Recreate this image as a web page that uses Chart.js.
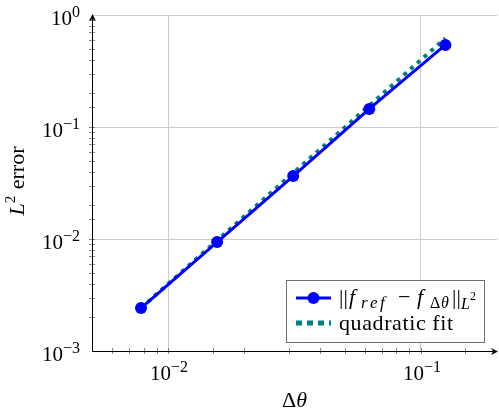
<!DOCTYPE html>
<html>
<head>
<meta charset="utf-8">
<script src="https://cdn.jsdelivr.net/npm/chart.js@4/dist/chart.umd.min.js"></script>
<style>
html,body{margin:0;padding:0;background:#fff;}
canvas{display:block;}
</style>
</head>
<body>
<canvas id="c" width="499" height="416"></canvas>
<script>
// ---- data ----
const dTheta = [0.0078125, 0.015625, 0.03125, 0.0625, 0.125];
const l2Error = [0.00242, 0.0094, 0.0365, 0.145, 0.54];
const quadFit = [0.00242, 0.0097, 0.0388, 0.155, 0.62];
const seriesLabels = ['‖f_ref − f_Δθ‖_L²', 'quadratic fit'];
const xTickValues = [0.01, 0.1];
const xTickExponents = ['−2', '−1'];
const yTickValues = [0.001, 0.01, 0.1, 1];
const yTickExponents = ['−3', '−2', '−1', '0'];
const xTitle = 'Δθ';
const yTitle = 'L² error';

const SERIF = '"Liberation Serif", "DejaVu Serif", serif';
function font(size, italic){ return (italic ? 'italic ' : '') + size + 'px ' + SERIF; }
function isMajor(v){ if(!v) return false; const l = Math.log10(v); return Math.abs(l - Math.round(l)) < 1e-6; }

// segments: t text, s size, it italic, dy baseline shift, x optional offset from start
function drawRich(ctx, x, y, segs, measureOnly){
  let cx = x;
  segs.forEach(s => {
    ctx.font = font(s.s, s.it);
    if(s.x !== undefined) cx = x + s.x;
    if(!measureOnly) ctx.fillText(s.t, cx, y + (s.dy || 0));
    cx += ctx.measureText(s.t).width + (s.gap || 0);
  });
  return cx - x;
}

const richLabels = {
  '‖f_ref − f_Δθ‖_L²': [
    {t:'|', s:22, x:0}, {t:'|', s:22, x:4.5},
    {t:'f', s:22, it:1, x:10},
    {t:'r', s:17, it:1, dy:4, x:22}, {t:'e', s:17, it:1, dy:4, x:31}, {t:'f', s:17, it:1, dy:4, x:41},
    {t:'−', s:22, x:59},
    {t:'f', s:22, it:1, x:78},
    {t:'Δ', s:16, dy:4, x:91}, {t:'θ', s:16, it:1, dy:4, x:102},
    {t:'|', s:22, x:113}, {t:'|', s:22, x:117.5},
    {t:'L', s:16, it:1, dy:5, x:122}, {t:'2', s:12, dy:-4, x:131}
  ],
  'quadratic fit': [{t:'quadratic fit', s:22}]
};

const axesPlugin = {
  id: 'axesPlugin',
  afterDraw(chart){
    const ctx = chart.ctx, a = chart.chartArea, xs = chart.scales.x, ys = chart.scales.y;
    ctx.save();
    // minor/major tick marks crossing the axes
    ctx.strokeStyle = '#666'; ctx.lineWidth = 0.8;
    xs.ticks.forEach(t => {
      const px = Math.round(xs.getPixelForValue(t.value)) + 0.5;
      if(px < a.left + 2 || px > a.right - 1) return;
      ctx.beginPath(); ctx.moveTo(px, a.bottom - 3); ctx.lineTo(px, a.bottom + 3); ctx.stroke();
    });
    ys.ticks.forEach(t => {
      const py = Math.round(ys.getPixelForValue(t.value)) + 0.5;
      if(py > a.bottom - 2 || py < a.top + 1) return;
      ctx.beginPath(); ctx.moveTo(a.left - 3, py); ctx.lineTo(a.left + 3, py); ctx.stroke();
    });
    // axis lines with arrows
    ctx.strokeStyle = '#000'; ctx.fillStyle = '#000'; ctx.lineWidth = 1;
    const bx = Math.round(a.left) + 0.5, by = Math.round(a.bottom) + 0.5;
    ctx.beginPath(); ctx.moveTo(bx, by); ctx.lineTo(a.right, by); ctx.stroke();
    ctx.beginPath(); ctx.moveTo(bx, by); ctx.lineTo(bx, a.top + 1); ctx.stroke();
    const tipX = a.right + 1;
    ctx.beginPath(); ctx.moveTo(tipX, by); ctx.lineTo(tipX - 7, by - 3.5); ctx.lineTo(tipX - 5, by); ctx.lineTo(tipX - 7, by + 3.5); ctx.closePath(); ctx.fill();
    const tipY = a.top - 1;
    ctx.beginPath(); ctx.moveTo(bx, tipY); ctx.lineTo(bx - 3.5, tipY + 7); ctx.lineTo(bx, tipY + 5); ctx.lineTo(bx + 3.5, tipY + 7); ctx.closePath(); ctx.fill();

    // tick labels
    ctx.fillStyle = '#000'; ctx.textBaseline = 'alphabetic'; ctx.textAlign = 'left';
    xTickValues.forEach((v, i) => {
      const px = xs.getPixelForValue(v);
      const segs = [{t:'10', s:21}, {t:xTickExponents[i], s:16, dy:-8}];
      const w = drawRich(ctx, 0, 0, segs, true);
      drawRich(ctx, px - w / 2 + 1, a.bottom + 29, segs);
    });
    yTickValues.forEach((v, i) => {
      const py = ys.getPixelForValue(v);
      const segs = [{t:'10', s:21}, {t:yTickExponents[i], s:16, dy:-8}];
      const w = drawRich(ctx, 0, 0, segs, true);
      drawRich(ctx, a.left - 12 - w, py + 10, segs);
    });

    // axis titles
    const xt = [{t:xTitle.charAt(0), s:22}, {t:xTitle.charAt(1), s:22, it:1}];
    const xw = drawRich(ctx, 0, 0, xt, true);
    drawRich(ctx, (a.left + a.right) / 2 - xw / 2, a.bottom + 56, xt);

    const yt = [{t:'L', s:22, it:1}, {t:'2', s:15, dy:-9, gap:1}, {t:yTitle.slice(2), s:22}];
    const yw = drawRich(ctx, 0, 0, yt, true);
    ctx.save();
    ctx.translate(24, 181);
    ctx.rotate(-Math.PI / 2);
    drawRich(ctx, -yw / 2, 0, yt);
    ctx.restore();

    // legend
    const lx = 286.5, ly = 280.5, lw = 198, lh = 62;
    ctx.fillStyle = '#fff'; ctx.fillRect(lx, ly, lw, lh);
    ctx.strokeStyle = '#6e6e6e'; ctx.lineWidth = 1; ctx.strokeRect(lx, ly, lw, lh);
    const ds = chart.data.datasets;
    let ry = 298;
    ctx.strokeStyle = ds[0].borderColor; ctx.lineWidth = ds[0].borderWidth; ctx.setLineDash([]);
    ctx.beginPath(); ctx.moveTo(296, ry); ctx.lineTo(331, ry); ctx.stroke();
    ctx.fillStyle = ds[0].pointBackgroundColor;
    ctx.beginPath(); ctx.arc(313.5, ry, ds[0].pointRadius, 0, Math.PI * 2); ctx.fill();
    ctx.fillStyle = '#000';
    drawRich(ctx, 339, 304, richLabels[ds[0].label]);
    ry = 323;
    ctx.strokeStyle = ds[1].borderColor; ctx.lineWidth = 5; ctx.setLineDash([6, 5]);
    ctx.beginPath(); ctx.moveTo(296, ry); ctx.lineTo(331, ry); ctx.stroke();
    ctx.setLineDash([]);
    ctx.fillStyle = '#000';
    try { ctx.letterSpacing = '0.6px'; } catch(e) {}
    drawRich(ctx, 339, 330, richLabels[ds[1].label]);
    try { ctx.letterSpacing = '0px'; } catch(e) {}
    ctx.restore();
  }
};

new Chart(document.getElementById('c'), {
  type: 'line',
  data: {
    datasets: [
      {
        label: seriesLabels[0],
        data: dTheta.map((x, i) => ({x, y: l2Error[i]})),
        borderColor: '#0000ff', backgroundColor: '#0000ff',
        pointBackgroundColor: '#0000ff', pointBorderColor: '#0000ff',
        borderWidth: 3, pointRadius: 6, pointBorderWidth: 0, tension: 0, fill: false
      },
      {
        label: seriesLabels[1],
        data: dTheta.map((x, i) => ({x, y: quadFit[i]})),
        borderColor: '#008080', backgroundColor: '#008080',
        borderWidth: 4, borderDash: [4, 5], borderCapStyle: 'butt',
        pointRadius: 0, tension: 0, fill: false
      }
    ]
  },
  options: {
    responsive: false,
    animation: false,
    devicePixelRatio: 1,
    layout: { autoPadding: false, padding: { left: 92, right: 2, top: 15, bottom: 65 } },
    plugins: { legend: { display: false }, tooltip: { enabled: false } },
    scales: {
      x: {
        type: 'logarithmic', min: 0.005, max: 0.2,
        ticks: { display: false },
        border: { display: false },
        grid: { drawTicks: false, lineWidth: 1, color: c => isMajor(c.tick && c.tick.value) ? '#cccccc' : 'rgba(0,0,0,0)' },
        afterFit: s => { s.height = 0; }
      },
      y: {
        type: 'logarithmic', min: 0.001, max: 1,
        ticks: { display: false },
        border: { display: false },
        grid: { drawTicks: false, lineWidth: 1, color: c => isMajor(c.tick && c.tick.value) ? '#cccccc' : 'rgba(0,0,0,0)' },
        afterFit: s => { s.width = 0; }
      }
    }
  },
  plugins: [axesPlugin]
});
</script>
</body>
</html>
